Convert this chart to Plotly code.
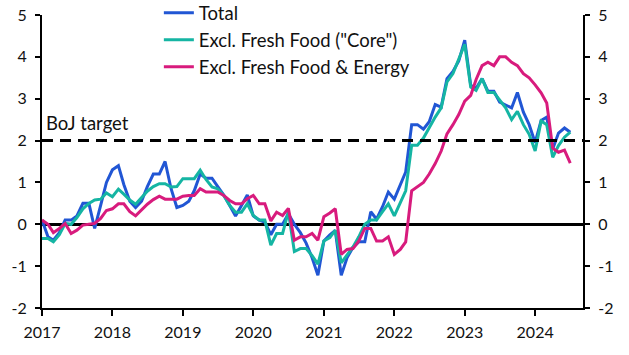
import pandas as pd
import plotly.graph_objects as go

months = pd.date_range("2017-01-01", periods=91, freq="MS")

total = [0.1, -0.3, -0.38, -0.2, 0.1, 0.1, 0.2, 0.5, 0.5, -0.1,
         0.45, 1.0, 1.3, 1.4, 0.95, 0.55, 0.4, 0.55, 0.9, 1.2,
         1.2, 1.5, 0.85, 0.4, 0.45, 0.55, 0.8, 1.2, 1.1, 1.1,
         0.9, 0.7, 0.45, 0.2, 0.45, 0.7, 0.2, 0.1, 0.05, -0.25,
         0.0, 0.0, 0.25, 0.0, -0.2, -0.45, -0.8, -1.22, -0.4, -0.25,
         -0.15, -1.22, -0.8, -0.55, -0.42, -0.42, 0.3, 0.12, 0.42, 0.77,
         0.6, 0.95, 1.25, 2.38, 2.38, 2.27, 2.45, 2.86, 2.8, 3.48,
         3.65, 3.9, 4.4, 3.32, 3.25, 3.48, 3.18, 3.18, 2.92, 2.85,
         2.78, 3.15, 2.68, 2.38, 1.95, 2.48, 2.56, 1.8, 2.18, 2.3,
         2.2]

core = [-0.34, -0.34, -0.42, -0.25, 0.02, 0.0, 0.16, 0.37, 0.5, 0.58,
        0.6, 0.75, 0.66, 0.84, 0.72, 0.58, 0.48, 0.65, 0.79, 0.9,
        0.97, 0.97, 0.89, 0.9, 1.09, 1.09, 1.09, 1.29, 1.07, 0.89,
        0.85, 0.69, 0.45, 0.29, 0.29, 0.49, 0.21, 0.1, 0.1, -0.5,
        -0.22, -0.22, 0.3, -0.65, -0.58, -0.58, -0.75, -0.95, -0.4, -0.32,
        -0.14, -0.92, -0.72, -0.54, -0.3, 0.0, 0.1, 0.1, 0.3, 0.49,
        0.2, 0.5, 0.8, 1.89, 1.89, 2.06, 2.32, 2.56, 2.78, 3.4,
        3.6, 3.95, 4.3, 3.28, 3.2, 3.48, 3.15, 3.15, 2.98, 2.78,
        2.5, 2.7, 2.38, 2.15, 1.75, 2.47, 2.38, 1.6, 1.88, 2.08,
        2.2]

core_core = [0.1, 0.0, -0.2, -0.1, 0.02, -0.22, -0.14, -0.02, 0.0, 0.02,
             0.14, 0.33, 0.37, 0.49, 0.49, 0.3, 0.2, 0.35, 0.48, 0.59,
             0.67, 0.6, 0.6, 0.6, 0.67, 0.69, 0.69, 0.85, 0.77, 0.77,
             0.77, 0.69, 0.57, 0.49, 0.49, 0.61, 0.69, 0.49, 0.49, 0.08,
             0.29, 0.21, 0.38, -0.38, -0.3, -0.3, -0.22, -0.38, 0.18, 0.27,
             0.37, -0.72, -0.6, -0.58, -0.4, -0.1, -0.1, -0.4, -0.4, -0.3,
             -0.72, -0.6, -0.42, 0.8, 0.89, 1.0, 1.2, 1.45, 1.75, 2.16,
             2.38, 2.62, 2.94, 3.08, 3.46, 3.79, 3.87, 3.79, 4.0, 4.0,
             3.87, 3.79, 3.6, 3.5, 3.33, 3.14, 2.9, 1.82, 1.72, 1.77,
             1.46]

series_names = ["Total", "Excl. Fresh Food (\"Core\")", "Excl. Fresh Food & Energy"]
series_colors = ["#2156d4", "#15b5a3", "#d81b7d"]
year_ticks = [f"{y}-01-01" for y in range(2017, 2025)]
year_labels = [str(y) for y in range(2017, 2025)]
y_ticks = list(range(-2, 6))
y_labels = [str(v) for v in y_ticks]
boj_target = 2

assert len(total) == len(core) == len(core_core) == len(months)

FONT = "Lato"
TICK = dict(size=16, color="#111", family=FONT)
TEXT = dict(size=18.5, color="#111", family=FONT)

fig = go.Figure()
for i, (name, vals, col) in enumerate(zip(series_names, [total, core, core_core], series_colors)):
    fig.add_trace(go.Scatter(x=months, y=vals, name=name, mode="lines",
                             line=dict(color=col, width=3),
                             yaxis="y2" if i == 2 else "y"))

fig.add_hline(y=boj_target, line=dict(color="black", width=3, dash="11px,7px"))
fig.add_annotation(text="BoJ target", xref="paper", yref="y", x=0.004, y=boj_target + 0.41,
                   xanchor="left", yanchor="middle", showarrow=False, font=TEXT)

axis_common = dict(range=[-2, 5], tickvals=y_ticks, ticktext=y_labels, ticks="outside",
                   ticklen=5, tickwidth=2, tickcolor="black", showline=True, linecolor="black",
                   linewidth=2, showgrid=False, tickfont=TICK, ticklabelstandoff=5)

fig.update_layout(
    width=629, height=355,
    margin=dict(l=42, r=46, t=15, b=47, autoexpand=False),
    plot_bgcolor="white", paper_bgcolor="white",
    font=dict(family=FONT, size=16, color="#111"),
    showlegend=True,
    legend=dict(x=0.216, y=1.071, xanchor="left", yanchor="top", bgcolor="rgba(0,0,0,0)",
                font=TEXT, tracegroupgap=0),
    xaxis=dict(type="date", range=["2017-01-01", "2024-09-05"], tickvals=year_ticks,
               ticktext=year_labels, ticks="outside", ticklen=6, tickwidth=2, tickcolor="black",
               showline=True, linecolor="black", linewidth=2, showgrid=False,
               tickfont=TICK, ticklabelstandoff=3),
    yaxis=dict(**axis_common, zeroline=True, zerolinecolor="black", zerolinewidth=3),
    yaxis2=dict(**axis_common, overlaying="y", side="right", zeroline=False),
)

fig.write_html("out.html", config={"displayModeBar": False},
               post_script="document.body.style.margin='0';document.body.style.padding='0';")
